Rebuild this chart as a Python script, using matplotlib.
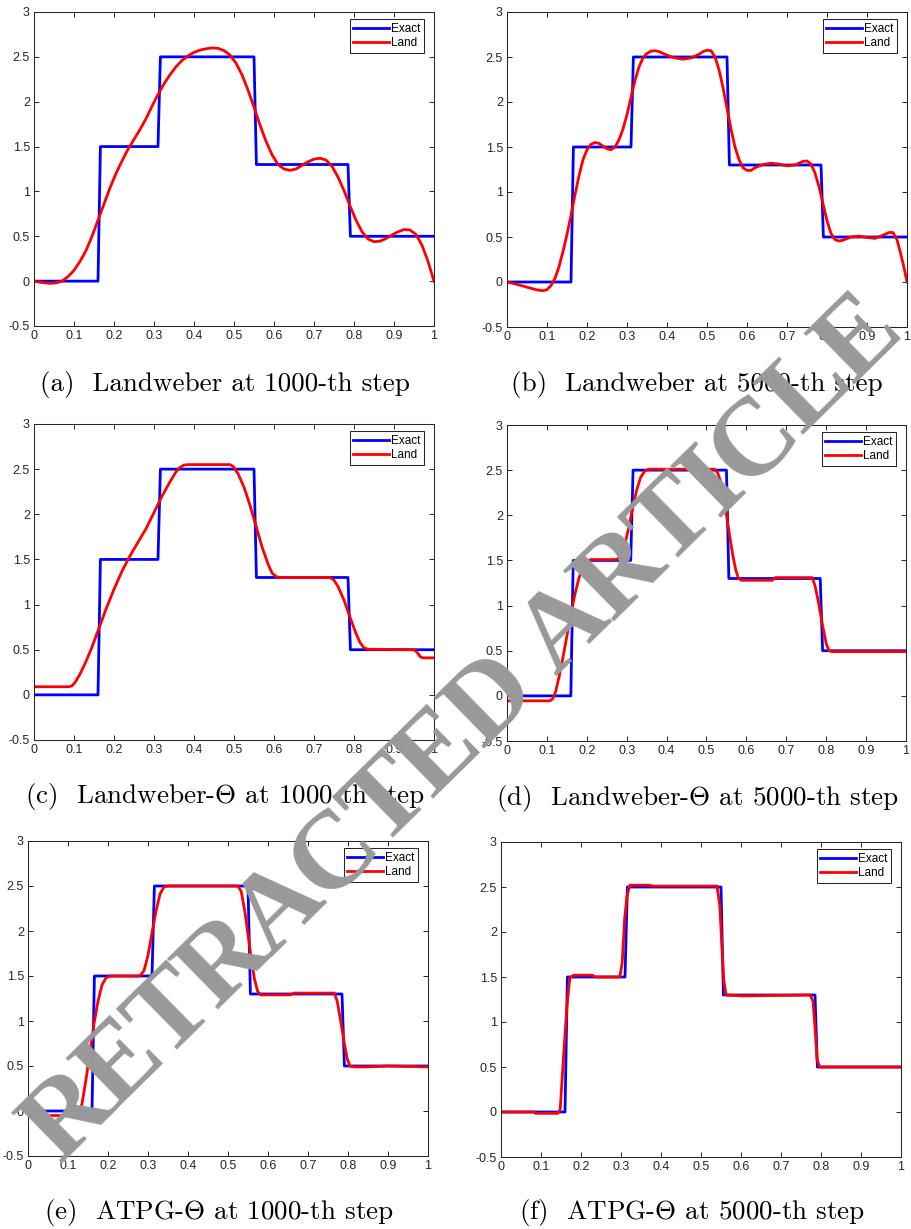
import matplotlib
matplotlib.use("Agg")
import matplotlib.pyplot as plt
from matplotlib.font_manager import FontProperties
import math

# ============================================================================
# DATA
# ============================================================================

# exact solution: piecewise constant
EXACT_JUMPS = [0.16, 0.31, 0.55, 0.785]
EXACT_LEVELS = [0.0, 1.5, 2.5, 1.3, 0.5]

# (a) Landweber at 1000-th step
land_a_x = [0.0, 0.02, 0.04, 0.055, 0.07, 0.085, 0.1, 0.115, 0.13, 0.145, 0.16,
            0.175, 0.19, 0.205, 0.22, 0.235, 0.25, 0.265, 0.28, 0.295, 0.31,
            0.325, 0.34, 0.355, 0.37, 0.385, 0.4, 0.415, 0.43, 0.445, 0.46,
            0.475, 0.49, 0.505, 0.52, 0.535, 0.55, 0.565, 0.58, 0.595, 0.61,
            0.625, 0.64, 0.655, 0.67, 0.685, 0.7, 0.715, 0.73, 0.745, 0.76,
            0.775, 0.79, 0.805, 0.82, 0.835, 0.85, 0.865, 0.88, 0.895, 0.91,
            0.925, 0.94, 0.955, 0.97, 0.985, 1.0]
land_a_y = [0.0, -0.015, -0.025, -0.02, 0.0, 0.05, 0.12, 0.22, 0.34, 0.5, 0.68,
            0.86, 1.04, 1.2, 1.34, 1.47, 1.58, 1.69, 1.81, 1.95, 2.08,
            2.2, 2.3, 2.39, 2.46, 2.51, 2.55, 2.575, 2.59, 2.6, 2.595,
            2.57, 2.52, 2.43, 2.3, 2.13, 1.94, 1.74, 1.56, 1.41, 1.3,
            1.25, 1.235, 1.25, 1.29, 1.33, 1.36, 1.37, 1.35, 1.28, 1.16,
            1.01, 0.84, 0.68, 0.55, 0.47, 0.44, 0.445, 0.475, 0.515, 0.55,
            0.575, 0.57, 0.52, 0.4, 0.22, 0.0]

# (b) Landweber at 5000-th step
land_b_x = [0.0, 0.02, 0.04, 0.06, 0.075, 0.09, 0.1, 0.11, 0.12, 0.13, 0.14,
            0.15, 0.16, 0.17, 0.18, 0.19, 0.2, 0.21, 0.22, 0.23, 0.24, 0.25,
            0.26, 0.27, 0.28, 0.29, 0.3, 0.31, 0.32, 0.33, 0.34, 0.35, 0.36,
            0.37, 0.38, 0.39, 0.4, 0.42, 0.44, 0.46, 0.48, 0.49, 0.5, 0.51,
            0.52, 0.53, 0.54, 0.55, 0.56, 0.57, 0.58, 0.59, 0.6, 0.61, 0.62,
            0.64, 0.66, 0.68, 0.7, 0.72, 0.74, 0.75, 0.76, 0.77, 0.78, 0.79,
            0.8, 0.81, 0.82, 0.83, 0.84, 0.86, 0.88, 0.9, 0.92, 0.94, 0.955,
            0.965, 0.975, 0.985, 0.993, 1.0]
land_b_y = [0.0, -0.02, -0.045, -0.07, -0.088, -0.097, -0.085, -0.04, 0.04, 0.17, 0.34,
            0.53, 0.74, 0.97, 1.18, 1.36, 1.47, 1.53, 1.55, 1.54, 1.51, 1.48,
            1.47, 1.5, 1.58, 1.7, 1.86, 2.05, 2.24, 2.39, 2.49, 2.54, 2.565,
            2.57, 2.56, 2.54, 2.52, 2.49, 2.475, 2.49, 2.53, 2.56, 2.575, 2.57,
            2.5, 2.36, 2.16, 1.93, 1.7, 1.5, 1.36, 1.27, 1.24, 1.24, 1.27,
            1.305, 1.32, 1.31, 1.29, 1.3, 1.34, 1.345, 1.31, 1.21, 1.06, 0.87,
            0.68, 0.54, 0.47, 0.455, 0.465, 0.5, 0.51, 0.495, 0.485, 0.52, 0.55,
            0.55, 0.47, 0.3, 0.15, 0.0]

# (c) Landweber-Theta at 1000-th step
land_c_x = [0.0, 0.088, 0.095, 0.103, 0.115, 0.13, 0.145, 0.16, 0.18, 0.2, 0.22,
            0.24, 0.26, 0.28, 0.3, 0.32, 0.34, 0.355, 0.365, 0.375, 0.385, 0.49,
            0.498, 0.51, 0.525, 0.54, 0.555, 0.57, 0.585, 0.595, 0.605, 0.615,
            0.74, 0.75, 0.76, 0.775, 0.79, 0.805, 0.815, 0.825, 0.835, 0.95,
            0.958, 0.966, 0.972, 1.0]
land_c_y = [0.09, 0.09, 0.1, 0.14, 0.23, 0.37, 0.53, 0.71, 0.95, 1.17, 1.37,
            1.54, 1.69, 1.84, 2.02, 2.2, 2.36, 2.47, 2.52, 2.545, 2.55, 2.55,
            2.53, 2.45, 2.3, 2.1, 1.87, 1.64, 1.45, 1.35, 1.31, 1.3,
            1.3, 1.27, 1.2, 1.05, 0.86, 0.68, 0.58, 0.52, 0.505, 0.5,
            0.47, 0.42, 0.41, 0.41]

# (d) Landweber-Theta at 5000-th step
land_d_x = [0.0, 0.108, 0.115, 0.122, 0.13, 0.14, 0.15, 0.16, 0.17, 0.18, 0.19,
            0.2, 0.21, 0.275, 0.285, 0.295, 0.305, 0.315, 0.325, 0.335, 0.345,
            0.355, 0.52, 0.528, 0.535, 0.545, 0.555, 0.565, 0.573, 0.58, 0.588,
            0.665, 0.672, 0.765, 0.772, 0.78, 0.79, 0.8, 0.807, 0.815, 1.0]
land_d_y = [-0.055, -0.055, -0.03, 0.05, 0.2, 0.42, 0.66, 0.9, 1.12, 1.3, 1.42,
            1.49, 1.51, 1.51, 1.55, 1.67, 1.86, 2.08, 2.28, 2.42, 2.49,
            2.51, 2.51, 2.47, 2.38, 2.15, 1.86, 1.58, 1.4, 1.3, 1.28,
            1.28, 1.31, 1.31, 1.22, 1.05, 0.8, 0.58, 0.5, 0.49, 0.49]

# (e) ATPG-Theta at 1000-th step
land_e_x = [0.0, 0.12, 0.128, 0.135, 0.145, 0.155, 0.165, 0.175, 0.185, 0.195,
            0.205, 0.28, 0.29, 0.3, 0.31, 0.32, 0.33, 0.34, 0.35, 0.525, 0.533,
            0.542, 0.55, 0.558, 0.566, 0.574, 0.582, 0.655, 0.665, 0.766, 0.773,
            0.781, 0.79, 0.798, 0.805, 0.815, 0.85, 0.9, 1.0]
land_e_y = [-0.05, -0.05, -0.02, 0.08, 0.35, 0.66, 0.97, 1.22, 1.4, 1.48,
            1.5, 1.5, 1.56, 1.73, 1.98, 2.22, 2.41, 2.49, 2.5, 2.5, 2.44,
            2.22, 1.96, 1.7, 1.47, 1.33, 1.29, 1.29, 1.31, 1.31, 1.22,
            1.02, 0.77, 0.58, 0.5, 0.49, 0.49, 0.5, 0.49]

# (f) ATPG-Theta at 5000-th step
land_f_x = [0.0, 0.082, 0.086, 0.142, 0.148, 0.157, 0.165, 0.172, 0.182, 0.228,
            0.236, 0.297, 0.303, 0.309, 0.315, 0.322, 0.373, 0.377, 0.54, 0.547,
            0.553, 0.557, 0.5625, 0.607, 0.773, 0.78, 0.786, 0.79, 0.797, 1.0]
land_f_y = [0.0, 0.0, -0.015, -0.015, 0.03, 0.66, 1.18, 1.49, 1.52, 1.52,
            1.50, 1.50, 1.66, 2.14, 2.40, 2.52, 2.52, 2.51, 2.51, 2.29,
            1.77, 1.47, 1.30, 1.29, 1.30, 1.23, 0.88, 0.58, 0.50, 0.50]

CAPTIONS = [
    r"(a)  Landweber at 1000-th step",
    r"(b)  Landweber at 5000-th step",
    r"(c)  Landweber-$\Theta$ at 1000-th step",
    r"(d)  Landweber-$\Theta$ at 5000-th step",
    r"(e)  ATPG-$\Theta$ at 1000-th step",
    r"(f)  ATPG-$\Theta$ at 5000-th step",
]
LAND_X = [land_a_x, land_b_x, land_c_x, land_d_x, land_e_x, land_f_x]
LAND_Y = [land_a_y, land_b_y, land_c_y, land_d_y, land_e_y, land_f_y]

X_TICKS = [0, 0.1, 0.2, 0.3, 0.4, 0.5, 0.6, 0.7, 0.8, 0.9, 1]
X_TICK_LABELS = ["0", "0.1", "0.2", "0.3", "0.4", "0.5", "0.6", "0.7", "0.8", "0.9", "1"]
Y_TICKS = [-0.5, 0, 0.5, 1, 1.5, 2, 2.5, 3]
Y_TICK_LABELS = ["-0.5", "0", "0.5", "1", "1.5", "2", "2.5", "3"]

WATERMARK = "RETRACTED ARTICLE"

# ============================================================================
# LAYOUT (pixel boxes: left, top, right, bottom; caption centre x, y)
# ============================================================================
W, H = 912, 1229
AX_BOXES = [
    (34, 12, 434, 326), (507, 12, 907, 327),
    (34, 424, 434, 740), (507, 425, 906, 741),
    (28, 841, 428, 1156), (501, 842, 901, 1157),
]
CAPTION_POS = [(225, 385), (697, 385), (225, 797), (698, 798), (219, 1212), (692, 1212)]

# watermark: first/last letter centres (pixels from top-left), font size
WM_FIRST = (62, 1110)
WM_LAST = (853, 333)
WM_SIZE = 80

DARK = "#262626"
plt.rcParams["mathtext.fontset"] = "cm"


def exact_curve():
    xs, ys = [0.0], [EXACT_LEVELS[0]]
    for j, jump in enumerate(EXACT_JUMPS):
        xs += [jump, jump + 0.006]
        ys += [EXACT_LEVELS[j], EXACT_LEVELS[j + 1]]
    xs.append(1.0)
    ys.append(EXACT_LEVELS[-1])
    return xs, ys


def draw_watermark(fig):
    """Diagonal stamp, one letter at a time along a straight baseline."""
    prop = FontProperties(family="Liberation Serif", weight="bold", size=WM_SIZE)
    renderer = fig.canvas.get_renderer()
    em = WM_SIZE * 100 / 72
    widths = []
    for ch in WATERMARK:
        if ch == " ":
            widths.append(0.25 * em)
        else:
            w, _, _ = renderer.get_text_width_height_descent(ch, prop, ismath=False)
            widths.append(w)
    x0, y0 = WM_FIRST[0], H - WM_FIRST[1]
    x1, y1 = WM_LAST[0], H - WM_LAST[1]
    dist = math.hypot(x1 - x0, y1 - y0)
    ang = math.atan2(y1 - y0, x1 - x0)
    ux, uy = math.cos(ang), math.sin(ang)
    px, py = -uy, ux
    k = dist / (sum(widths) - widths[0] / 2 - widths[-1] / 2)
    cap = 0.66 * em
    s = 0.0
    for i, ch in enumerate(WATERMARK):
        if i > 0:
            s += k * (widths[i - 1] + widths[i]) / 2
        if ch == " ":
            continue
        bx = x0 + s * ux - cap / 2 * px
        by = y0 + s * uy - cap / 2 * py
        fig.text(bx / W, by / H, ch, fontproperties=prop, color="#999999",
                 rotation=math.degrees(ang), rotation_mode="anchor",
                 ha="center", va="baseline", zorder=10)


fig = plt.figure(figsize=(W / 100, H / 100), dpi=100)
ex_x, ex_y = exact_curve()

for i, (l, t, r, b) in enumerate(AX_BOXES):
    ax = fig.add_axes([l / W, 1 - b / H, (r - l) / W, (b - t) / H])
    ax.plot(ex_x, ex_y, color="#0000ff", lw=2.0, label="Exact")
    ax.plot(LAND_X[i], LAND_Y[i], color="#ff0000", lw=2.0, label="Land",
            solid_joinstyle="round")
    ax.set_xlim(0, 1)
    ax.set_ylim(-0.5, 3)
    ax.set_xticks(X_TICKS)
    ax.set_xticklabels(X_TICK_LABELS)
    ax.set_yticks(Y_TICKS)
    ax.set_yticklabels(Y_TICK_LABELS)
    ax.tick_params(direction="in", top=True, right=True, length=3.5, width=0.7,
                   color=DARK, labelcolor=DARK, labelsize=9, pad=3)
    for lab in ax.get_xticklabels() + ax.get_yticklabels():
        lab.set_family("Liberation Sans")
    for s in ax.spines.values():
        s.set_color(DARK)
        s.set_linewidth(0.75)
    leg = ax.legend(loc="upper right", bbox_to_anchor=(0.975, 0.977),
                    borderaxespad=0, fancybox=False, framealpha=1,
                    edgecolor=DARK, handlelength=3.0, handletextpad=0.2,
                    borderpad=0.3, labelspacing=0.2,
                    prop={"family": "Liberation Sans", "size": 8.5})
    leg.get_frame().set_linewidth(0.75)

    cx, cy = CAPTION_POS[i]
    fig.text(cx / W, 1 - cy / H, CAPTIONS[i], ha="center", va="center",
             fontsize=19.5, family="cmr10")

draw_watermark(fig)

fig.savefig("out.png", dpi=100)
